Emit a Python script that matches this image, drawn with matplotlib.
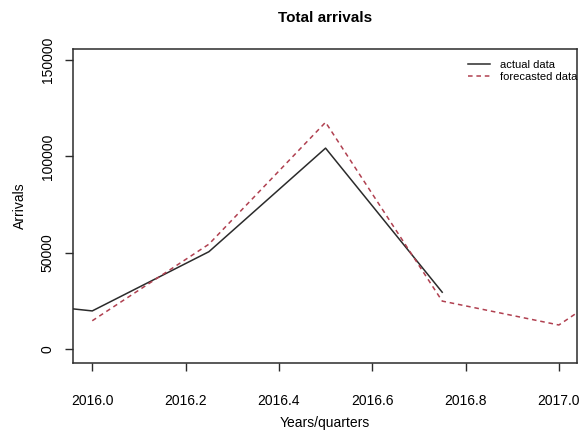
import numpy as np
import matplotlib
matplotlib.use('Agg')
import matplotlib.pyplot as plt

plt.rcParams['font.family'] = ['Liberation Sans', 'DejaVu Sans']

# quarterly values
actual_t = [2015.75, 2016.0, 2016.25, 2016.5, 2016.75]
actual_v = [26300, 19900, 50600, 104300, 29600]
fc_t = [2016.0, 2016.25, 2016.5, 2016.75, 2017.0, 2017.25]
fc_v = [14800, 54500, 117700, 25000, 12600, 53300]

x_ticks = [2016.0, 2016.2, 2016.4, 2016.6, 2016.8, 2017.0]
y_ticks = [0, 50000, 100000, 150000]

fig = plt.figure(figsize=(5.83, 4.32), dpi=100)
ax = fig.add_axes([0.126, 0.1604, 0.863, 0.7262])

dark = '#2b2b2b'
ax.plot(actual_t, actual_v, color=dark, lw=1.1, label='actual data')
ax.plot(fc_t, fc_v, color='#b04050', lw=1.1, dashes=(3, 2.5), label='forecasted data')

ax.set_xlim(2015.9597, 2017.038)
ax.set_ylim(-6950, 155700)
ax.set_xticks(x_ticks)
ax.set_xticklabels(['%.1f' % t for t in x_ticks])
ax.set_yticks(y_ticks)
ax.set_yticklabels([str(v) for v in y_ticks], rotation=90, va='center')

ax.tick_params(axis='x', length=5.5, width=1.0, color=dark, pad=17, labelsize=10)
ax.tick_params(axis='y', length=5.5, width=1.0, color=dark, pad=8, labelsize=10)
for s in ax.spines.values():
    s.set_linewidth(1.1)
    s.set_color(dark)

ax.set_title('Total arrivals', fontsize=11, fontweight='bold', y=1.099, va='center', pad=0)
ax.set_xlabel('Years/quarters', fontsize=10, va='center')
ax.xaxis.set_label_coords(0.5, -0.192)
ax.set_ylabel('Arrivals', fontsize=10, va='center')
ax.yaxis.set_label_coords(-0.106, 0.5)

ax.legend(loc='upper left', bbox_to_anchor=(0.784, 0.965), frameon=False,
          fontsize=8, handlelength=2.0, handletextpad=0.9, borderpad=0,
          borderaxespad=0, labelspacing=0.2)

fig.savefig('out.png', dpi=100)
